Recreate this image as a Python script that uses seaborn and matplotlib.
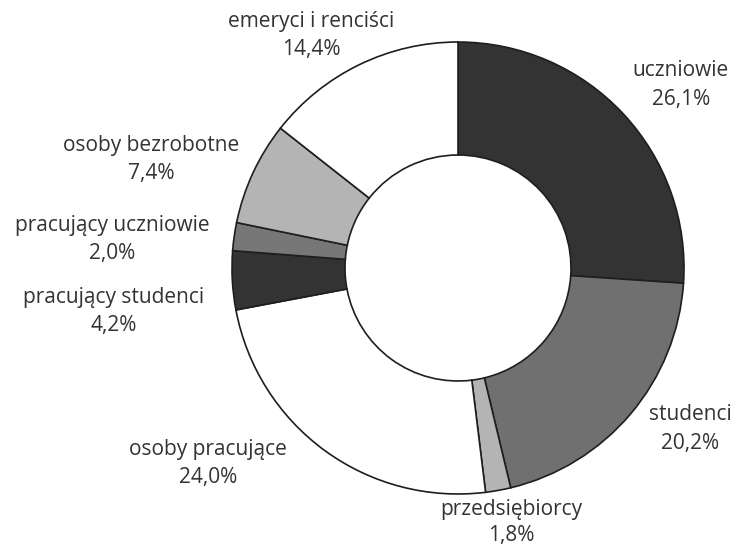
import matplotlib
matplotlib.use("Agg")
import matplotlib.pyplot as plt
import seaborn as sns

# shares of respondents, clockwise from 12 o'clock
categories = ["uczniowie", "studenci", "przedsiębiorcy", "osoby pracujące",
              "pracujący studenci", "pracujący uczniowie", "osoby bezrobotne",
              "emeryci i renciści"]
values = [26.1, 20.2, 1.8, 24.0, 4.2, 2.0, 7.4, 14.4]
value_labels = ["26,1%", "20,2%", "1,8%", "24,0%", "4,2%", "2,0%", "7,4%", "14,4%"]
colors = ["#333333", "#707070", "#b4b4b4", "#ffffff",
          "#333333", "#777777", "#b4b4b4", "#ffffff"]

sns.set_theme(style="white")
plt.rcParams["font.family"] = ["Open Sans", "DejaVu Sans"]

fig = plt.figure(figsize=(7.36, 5.48), dpi=100)
ax = fig.add_axes([0, 0, 1, 1])

# pixel coordinates, y measured from the top of the image
H = 548
cx, cy, r = 458, 268, 226
ax.pie(values, colors=colors, startangle=90, counterclock=False,
       center=(cx, H - cy), radius=r,
       wedgeprops=dict(width=r * 0.5, edgecolor="#1e1e1e", linewidth=1.2))

label_pos = {
    "uczniowie": (681, 71),
    "studenci": (690, 415),
    "przedsiębiorcy": (511, 509),
    "osoby pracujące": (208, 450),
    "pracujący studenci": (114, 297),
    "pracujący uczniowie": (112, 225),
    "osoby bezrobotne": (151, 145),
    "emeryci i renciści": (311, 22),
}
for name, pct in zip(categories, value_labels):
    x, y = label_pos[name]
    gap = 26 if name == "przedsiębiorcy" else 28
    ax.text(x, H - y, name, ha="center", va="center", fontsize=15, color="#333333")
    ax.text(x, H - y - gap, pct, ha="center", va="center", fontsize=15, color="#333333")

ax.set_xlim(0, 736)
ax.set_ylim(0, H)
ax.set_aspect("equal")
ax.axis("off")

fig.savefig("out.png", dpi=100, facecolor="white")
